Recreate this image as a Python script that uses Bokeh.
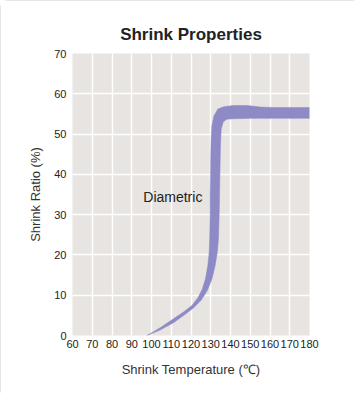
from bokeh.plotting import figure
from bokeh.models import FixedTicker, Label
from bokeh.embed import file_html
from bokeh.resources import INLINE

# ---- data ----
x_ticks = [60, 70, 80, 90, 100, 110, 120, 130, 140, 150, 160, 170, 180]
y_ticks = [0, 10, 20, 30, 40, 50, 60, 70]

# upper/left edge of the "Diametric" band (temperature, shrink ratio)
upper_temp = [97.8, 104.6, 111.3, 116.4, 120.6, 123.5, 125.7, 127.3, 128.5, 129.2,
              129.5, 129.7, 129.7, 129.9, 130.0, 130.2, 130.6, 131.6, 133.6, 136.6,
              141.7, 148.4, 155.2, 161.9, 180.0]
upper_ratio = [0.0, 2.0, 4.2, 5.9, 7.5, 9.4, 11.5, 14.0, 17.3, 20.6,
               24.7, 29.7, 34.6, 39.6, 44.6, 48.7, 52.0, 54.5, 56.2, 56.8,
               57.1, 57.1, 56.7, 56.6, 56.6]
# lower/right edge, from the right end back to the start
lower_temp = [180.0, 161.9, 150.1, 141.7, 138.0, 136.3, 135.3, 134.9, 134.6, 134.3,
              133.9, 133.3, 132.2, 130.6, 128.2, 125.2, 121.4, 116.4, 111.3, 104.6]
lower_ratio = [53.9, 53.9, 53.9, 53.8, 53.7, 53.0, 51.2, 47.1, 38.8, 30.5,
               23.9, 20.6, 17.3, 14.0, 11.1, 8.8, 6.9, 5.0, 3.2, 1.4]

series_name = "Diametric"
series_label_pos = (110.8, 34.4)

title_text = "Shrink Properties"
x_label = "Shrink Temperature (\u2103)"
y_label = "Shrink Ratio (%)"

# ---- figure ----
p = figure(width=360, height=398, x_range=(60, 180), y_range=(0, 70),
           output_backend="svg", toolbar_location=None,
           min_border_left=72, min_border_right=51,
           min_border_top=53, min_border_bottom=63)
p.styles = {"position": "absolute", "left": "0px", "top": "0px",
            "outline": "1px solid #dcdcdc", "outline-offset": "-1px",
            "border-radius": "8px"}

p.background_fill_color = "#e7e4e1"
p.border_fill_color = "white"
p.outline_line_color = None

p.title.text = title_text
p.title.align = "center"
p.title.text_font = "Liberation Sans"
p.title.text_font_size = "17px"
p.title.text_font_style = "bold"
p.title.text_color = "#222222"
p.title.standoff = 20

p.xaxis.ticker = FixedTicker(ticks=x_ticks)
p.yaxis.ticker = FixedTicker(ticks=y_ticks)
p.xgrid.ticker = FixedTicker(ticks=x_ticks)
p.ygrid.ticker = FixedTicker(ticks=y_ticks)
p.grid.grid_line_color = "white"
p.grid.grid_line_width = 1.5
p.grid.grid_line_alpha = 1.0

for ax in (p.xaxis, p.yaxis):
    ax.axis_line_color = None
    ax.major_tick_line_color = None
    ax.minor_tick_line_color = None
    ax.major_label_text_font = "Liberation Sans"
    ax.major_label_text_font_size = "11px"
    ax.major_label_text_color = "#222222"
    ax.axis_label_text_font = "Liberation Sans"
    ax.axis_label_text_font_size = "13px"
    ax.axis_label_text_font_style = "normal"
    ax.axis_label_text_color = "#333333"

p.xaxis.major_label_standoff = -2
p.yaxis.major_label_standoff = 0
p.xaxis.axis_label = x_label
p.yaxis.axis_label = y_label
p.xaxis.axis_label_standoff = 11
p.yaxis.axis_label_standoff = 8

p.patch(upper_temp + lower_temp, upper_ratio + lower_ratio,
        fill_color="#8d8ac5", line_color="#8d8ac5", line_width=0.5)

p.add_layout(Label(x=series_label_pos[0], y=series_label_pos[1], text=series_name,
                   text_align="center", text_baseline="middle",
                   text_font="Liberation Sans", text_font_size="14px",
                   text_color="#222222"))

open("out.html", "w").write(file_html(p, INLINE))
